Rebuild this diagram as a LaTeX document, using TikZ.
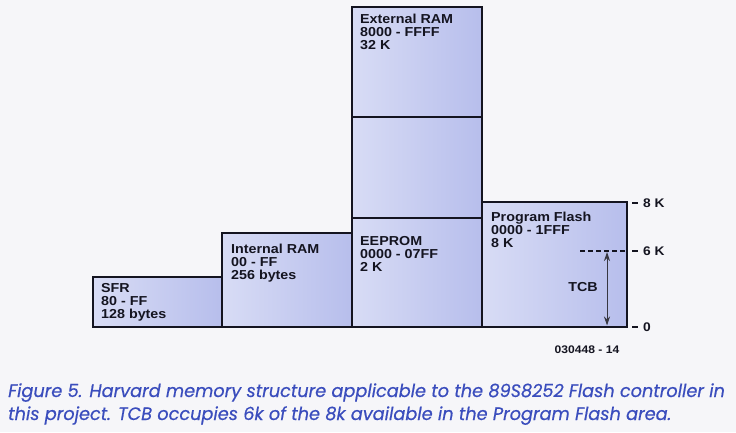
\documentclass[tikz,border=0pt]{standalone}
\usepackage{fontspec}
\setmainfont{Liberation Sans}
\newfontfamily\boxfont{Liberation Sans}[FakeStretch=1.1]
\newfontfamily\capfont{Poppins}[FakeStretch=0.983, FakeBold=0.5]
\usetikzlibrary{arrows.meta}

\definecolor{bg}{HTML}{F6F6F9}
\definecolor{boxl}{HTML}{D8DCF5}
\definecolor{boxr}{HTML}{B7BEEC}
\definecolor{capblue}{HTML}{3A4DBD}
\definecolor{ink}{HTML}{141420}

\begin{document}
\begin{tikzpicture}[x=1pt,y=1pt,
  mem/.style={draw=ink, line width=2.5pt, left color=boxl, right color=boxr,
    anchor=south west, inner sep=0pt, outer sep=0pt},
  memtext/.style={anchor=north west, inner sep=0pt, align=left,
    font=\boxfont\bfseries\fontsize{13}{13}\selectfont, text=ink},
  ticklbl/.style={anchor=west, inner sep=0pt,
    font=\boxfont\bfseries\fontsize{12.5}{13}\selectfont, text=ink},
  tickline/.style={draw=ink, line width=1.2pt},
  captext/.style={anchor=base west, inner sep=0pt,
    font=\capfont\itshape\fontsize{18}{23}\selectfont, text=capblue}]
\fill[bg] (0,0) rectangle (736,432);
\useasboundingbox (0,0) rectangle (736,432);

% memory blocks
\node[mem, minimum width=129pt, minimum height=50pt]  (sfr)  at (93,105)  {};
\node[mem, minimum width=130pt, minimum height=94pt]  (iram) at (222,105) {};
\node[mem, minimum width=130pt, minimum height=109pt] (eep)  at (352,105) {};
\node[mem, minimum width=130pt, minimum height=101pt] (mid)  at (352,214) {};
\node[mem, minimum width=130pt, minimum height=110pt] (xram) at (352,315) {};
\node[mem, minimum width=145pt, minimum height=125pt] (pf)   at (482,105) {};

% block texts
\node[memtext] (sfrT)  at (101,149) {SFR\\80 - FF\\128 bytes};
\node[memtext] (iramT) at (231,188) {Internal RAM\\00 - FF\\256 bytes};
\node[memtext] (xramT) at (360,418) {External RAM\\8000 - FFFF\\32 K};
\node[memtext] (eepT)  at (360,196) {EEPROM\\0000 - 07FF\\2 K};
\node[memtext] (pfT)   at (491,220) {Program Flash\\0000 - 1FFF\\8 K};

% scale ticks
\coordinate (k8a) at (632,229); \coordinate (k8b) at (638,229);
\coordinate (k6a) at (632,181); \coordinate (k6b) at (638,181);
\coordinate (k0a) at (632,105); \coordinate (k0b) at (638,105);
\draw[tickline] (k8a) -- (k8b);
\draw[tickline] (k6a) -- (k6b);
\draw[tickline] (k0a) -- (k0b);
\node[ticklbl] (l8) at (643,229) {8 K};
\node[ticklbl] (l6) at (643,181) {6 K};
\node[ticklbl] (l0) at (643,105) {0};

% TCB region
\coordinate (dsh) at (580,181);
\draw[draw=ink, line width=1.1pt, dash pattern=on 5pt off 3pt] (dsh) -- (pf.east |- dsh);
\coordinate (arTop) at (607,180);
\coordinate (arBot) at (607,106.5);
\draw[draw=ink!85, line width=1pt,
  {Stealth[length=9pt,width=6pt]}-{Stealth[length=9pt,width=6pt]}] (arTop) -- (arBot);
\node[memtext, anchor=center] (tcb) at (583,145) {TCB};

% figure number
\node[inner sep=0pt, font=\boxfont\bfseries\fontsize{11}{12}\selectfont, text=ink] (fig) at (587,82) {030448 - 14};

% caption
\node[captext] (cap1) at (8,35) {Figure 5. Harvard memory structure applicable to the 89S8252 Flash controller in};
\node[captext] (cap2) at (8,12) {this project. TCB occupies 6k of the 8k available in the Program Flash area.};
\end{tikzpicture}
\end{document}
